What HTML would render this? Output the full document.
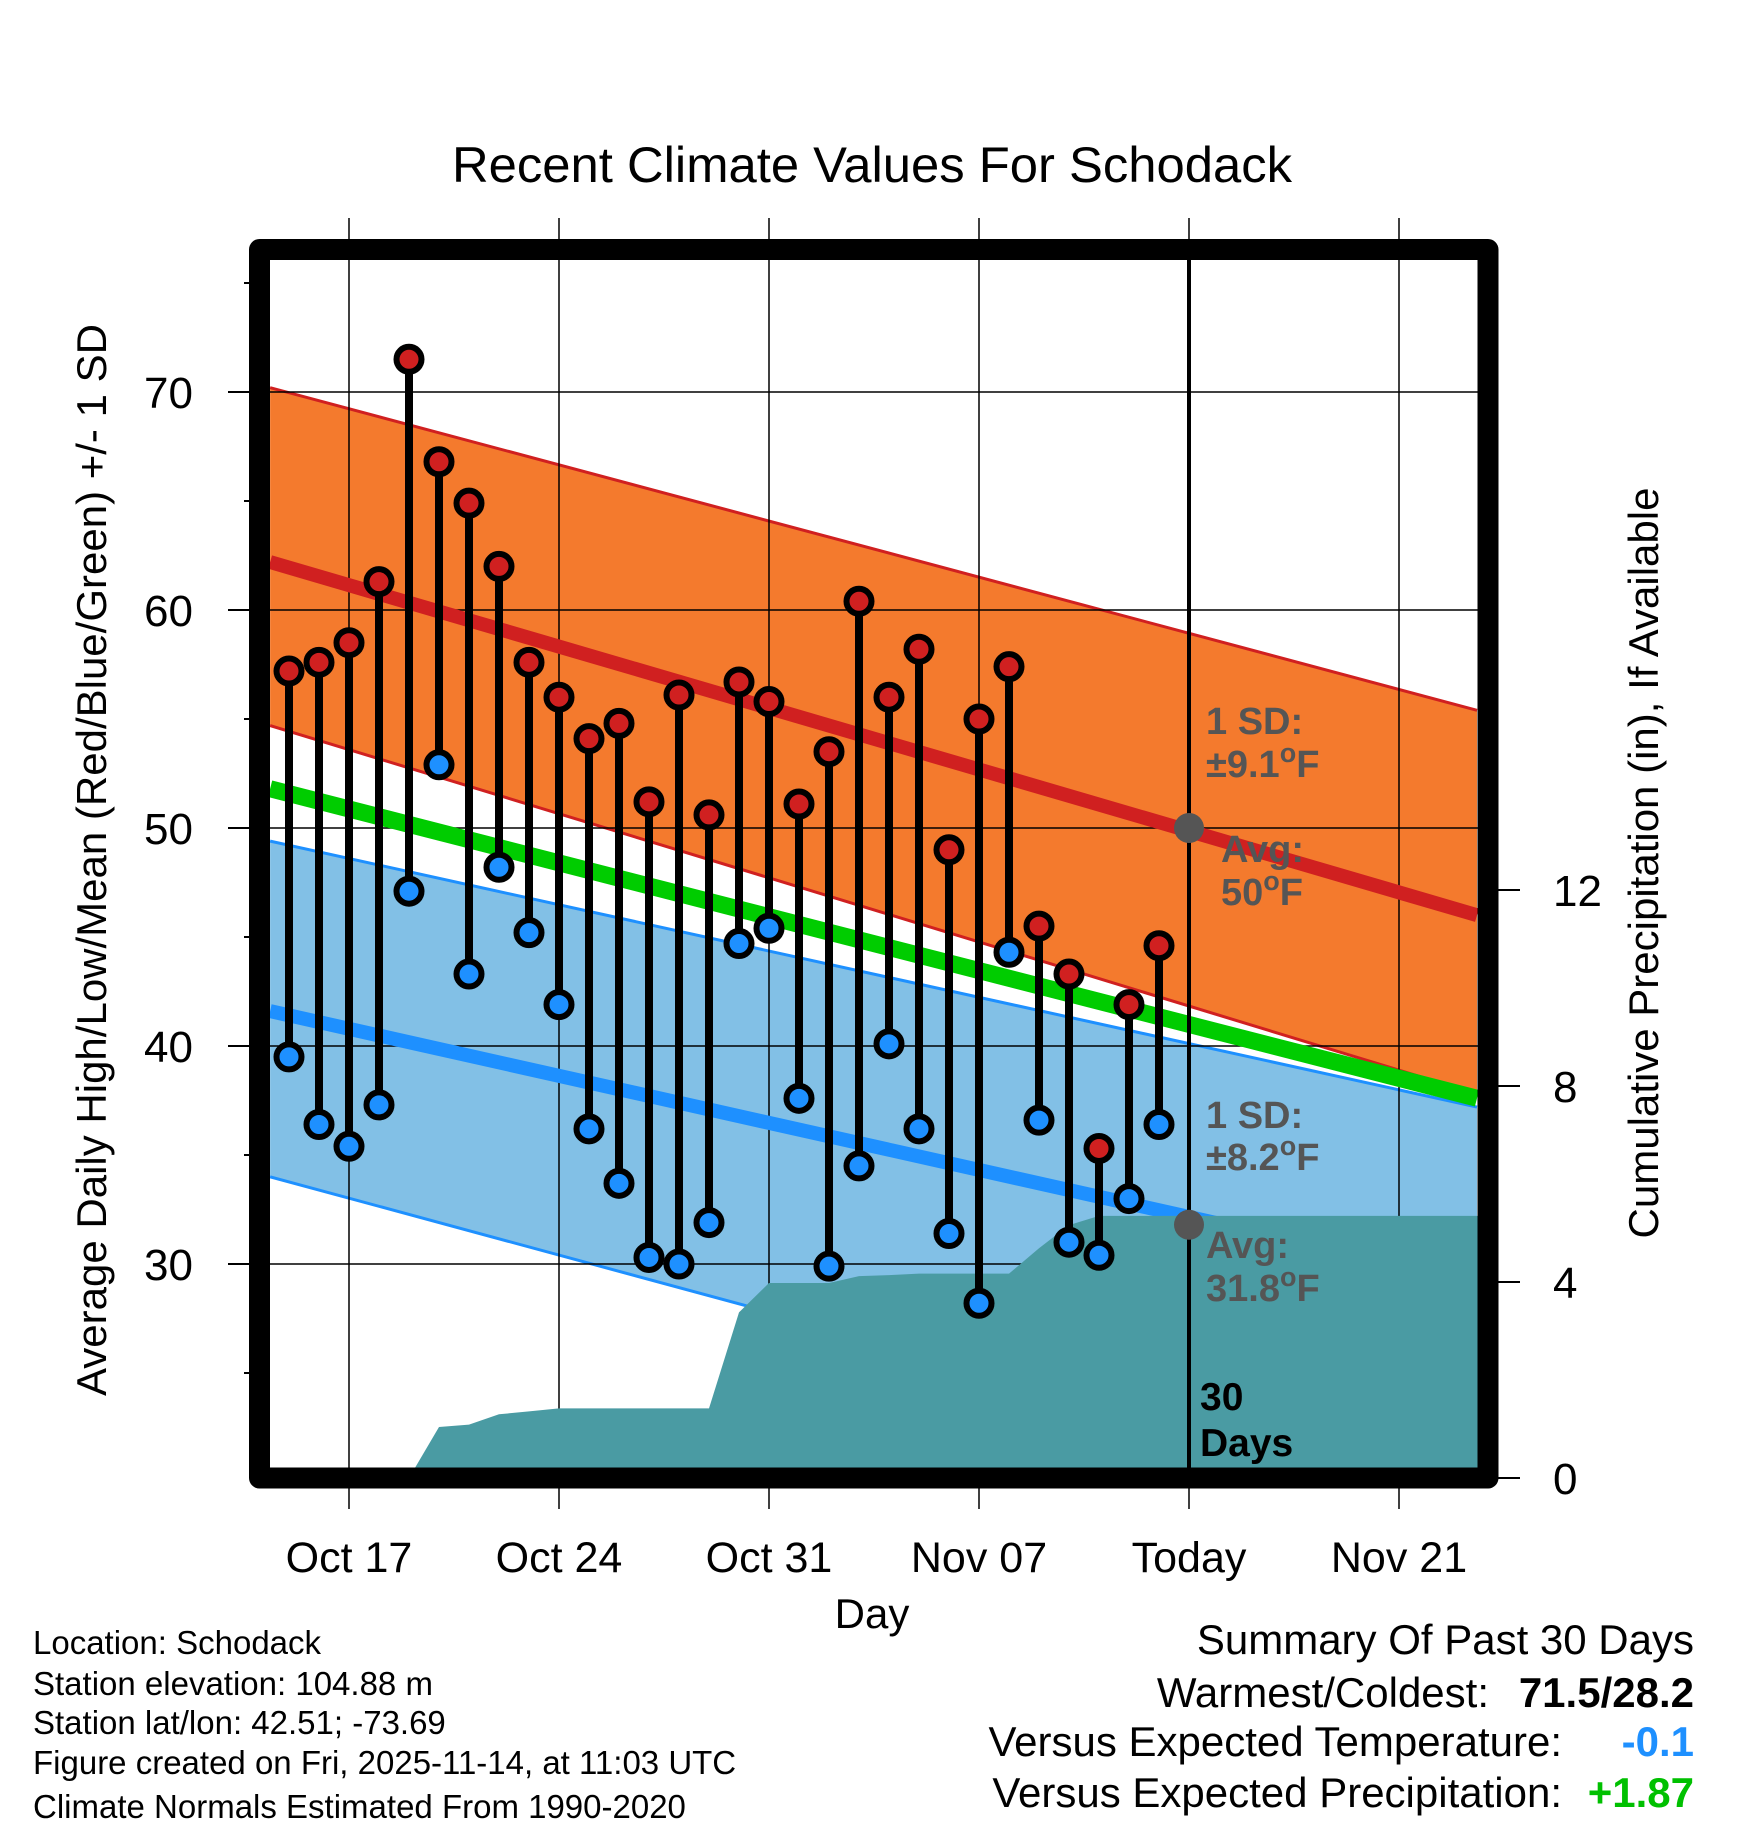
<!DOCTYPE html>
<html><head><meta charset="utf-8"><style>
html,body{margin:0;padding:0;background:#fff;}
svg{display:block;font-family:"Liberation Sans",Arial,sans-serif;}
</style></head><body>
<svg id="chart" width="1748" height="1828" viewBox="0 0 1748 1828" xmlns="http://www.w3.org/2000/svg">
<defs><clipPath id="plotclip"><rect x="270" y="260" width="1208" height="1208"/></clipPath></defs>
<text x="872" y="182" font-size="50" text-anchor="middle" textLength="840" lengthAdjust="spacingAndGlyphs">Recent Climate Values For Schodack</text>
<g id="bands" clip-path="url(#plotclip)"></g>
<g id="grid"></g>
<g id="means" clip-path="url(#plotclip)"></g>
<g id="precip" clip-path="url(#plotclip)"></g>
<g id="stems"></g>
<g id="annot">
 <line x1="1189" y1="260" x2="1189" y2="1468" stroke="#000" stroke-width="4"/>
 <g fill="#555" font-weight="bold" font-size="38">
  <text x="1206" y="734">1 SD:</text>
  <text x="1206" y="777">±9.1<tspan font-size="27" dy="-15">o</tspan><tspan dy="15">F</tspan></text>
  <text x="1221" y="862">Avg:</text>
  <text x="1221" y="905">50<tspan font-size="27" dy="-15">o</tspan><tspan dy="15">F</tspan></text>
  <text x="1206" y="1128">1 SD:</text>
  <text x="1206" y="1170">±8.2<tspan font-size="27" dy="-15">o</tspan><tspan dy="15">F</tspan></text>
  <text x="1206" y="1258">Avg:</text>
  <text x="1206" y="1301">31.8<tspan font-size="27" dy="-15">o</tspan><tspan dy="15">F</tspan></text>
 </g>
 <text x="1200" y="1410" font-size="39" font-weight="bold">30</text>
 <text x="1200" y="1456" font-size="39" font-weight="bold">Days</text>
</g>
<path d="M259.5 249.5 H1488 V1478 H259.5 Z" fill="none" stroke="#000" stroke-width="21" stroke-linejoin="round"/>
<g id="axes"></g>
<text transform="translate(106,860) rotate(-90)" font-size="42" text-anchor="middle">Average Daily High/Low/Mean (Red/Blue/Green) +/- 1 SD</text>
<text transform="translate(1658,863) rotate(-90)" font-size="42" text-anchor="middle">Cumulative Precipitation (in), If Available</text>
<text x="872" y="1628" font-size="42" text-anchor="middle">Day</text>
<g font-size="33">
 <text x="33" y="1654">Location: Schodack</text>
 <text x="33" y="1695">Station elevation: 104.88 m</text>
 <text x="33" y="1734">Station lat/lon: 42.51; -73.69</text>
 <text x="33" y="1774">Figure created on Fri, 2025-11-14, at 11:03 UTC</text>
 <text x="33" y="1818">Climate Normals Estimated From 1990-2020</text>
</g>
<g font-size="42" text-anchor="end">
 <text x="1694" y="1654">Summary Of Past 30 Days</text>
 <text x="1489" y="1707">Warmest/Coldest:</text>
 <text x="1694" y="1707" font-weight="bold">71.5/28.2</text>
 <text x="1562" y="1756">Versus Expected Temperature:</text>
 <text x="1694" y="1756" font-weight="bold" fill="#1E90FF">-0.1</text>
 <text x="1562" y="1807">Versus Expected Precipitation:</text>
 <text x="1694" y="1807" font-weight="bold" fill="#00C000">+1.87</text>
</g>
</svg>
<script>
// Day index relative to Oct 17 (0). Observed days Oct 15 .. Nov 13.
const obsDays = [-2,-1,0,1,2,3,4,5,6,7,8,9,10,11,12,13,14,15,16,17,18,19,20,21,22,23,24,25,26,27];
const highs = [57.2,57.6,58.5,61.3,71.5,66.8,64.9,62.0,57.6,56.0,54.1,54.8,51.2,56.1,50.6,56.7,55.8,51.1,53.5,60.4,56.0,58.2,49.0,55.0,57.4,45.5,43.3,35.3,41.9,44.6];
const lows = [39.5,36.4,35.4,37.3,47.1,52.9,43.3,48.2,45.2,41.9,36.2,33.7,30.3,30.0,31.9,44.7,45.4,37.6,29.9,34.5,40.1,36.2,31.4,28.2,44.3,36.6,31.0,30.4,33.0,36.4];
const precipCum = [0,0,0,0,0,1.04,1.09,1.30,1.36,1.42,1.42,1.42,1.42,1.42,1.42,3.38,3.98,3.98,3.98,4.12,4.14,4.17,4.17,4.17,4.17,4.69,5.16,5.35,5.35,5.35];
// Normals at left/right edges of plot (day -2.63 and 37.6)
const normDays = [-2.63, 37.6];
const highMean = [62.2, 46.0];
const highUpper = [70.2, 55.4];
const highLower = [54.7, 37.8];
const meanNorm = [51.8, 37.6];
const lowMean = [41.6, 29.2];
const lowUpper = [49.4, 37.2];
const lowLower = [34.0, 19.0];
const tempTicks = [30,40,50,60,70];
const tempMinor = [25,35,45,55,65,75];
const precipTicks = [0,4,8,12];
const xTickDays = [0,7,14,21,28,35];
const xTickLabels = ["Oct 17","Oct 24","Oct 31","Nov 07","Today","Nov 21"];
const todayDay = 28;
const todayHigh = 50, todayLow = 31.8;

const NS="http://www.w3.org/2000/svg";
const X = d => 349 + 30*d;
const Y = t => 392 + (70 - t)*21.8;
const PY = p => 1478 - 49*p;
function mk(tag, attrs, parent){const e=document.createElementNS(NS,tag);for(const k in attrs)e.setAttribute(k,attrs[k]);parent.appendChild(e);return e;}
const bands=document.getElementById('bands'), grid=document.getElementById('grid'), means=document.getElementById('means'),
 precip=document.getElementById('precip'), stems=document.getElementById('stems'), axes=document.getElementById('axes'), annot=document.getElementById('annot');

function bandPath(up, lo){return `M${X(normDays[0])} ${Y(up[0])} L${X(normDays[1])} ${Y(up[1])} L${X(normDays[1])} ${Y(lo[1])} L${X(normDays[0])} ${Y(lo[0])} Z`;}
function linePts(arr){return `M${X(normDays[0])} ${Y(arr[0])} L${X(normDays[1])} ${Y(arr[1])}`;}
let e;
e=mk('path',{d:bandPath(lowUpper,lowLower),fill:'#82C0E6'},bands);
 
e=mk('path',{d:linePts(lowUpper),stroke:'#1E90FF','stroke-width':3,fill:'none'},bands);
 
e=mk('path',{d:linePts(lowLower),stroke:'#1E90FF','stroke-width':3,fill:'none'},bands);
 
e=mk('path',{d:bandPath(highUpper,highLower),fill:'#F47A2D'},bands);
 
e=mk('path',{d:linePts(highUpper),stroke:'#D02020','stroke-width':3,fill:'none'},bands);
 
e=mk('path',{d:linePts(highLower),stroke:'#D02020','stroke-width':3,fill:'none'},bands);
 

// gridlines
xTickDays.forEach(d=>{
  e=mk('line',{x1:X(d),x2:X(d),y1:218,y2:1509,stroke:'#000','stroke-width':1.5},grid);
   
});
tempTicks.forEach(t=>{
  e=mk('line',{x1:228,x2:1478,y1:Y(t),y2:Y(t),stroke:'#000','stroke-width':1.5},grid);
   
});

e=mk('path',{d:linePts(highMean),stroke:'#D02020','stroke-width':14,fill:'none'},means);
 
e=mk('path',{d:linePts(meanNorm),stroke:'#00CC00','stroke-width':17,fill:'none'},means);
 
e=mk('path',{d:linePts(lowMean),stroke:'#1E90FF','stroke-width':14,fill:'none'},means);
 

// precipitation area
let pd=`M${X(obsDays[0])} ${PY(0)}`;
obsDays.forEach((d,i)=>{pd+=` L${X(d)} ${PY(precipCum[i])}`;});
pd+=` L1480 ${PY(precipCum[precipCum.length-1])} L1480 ${PY(0)} Z`;
e=mk('path',{d:pd,fill:'#4A9BA3'},precip);
 

// stems & markers
obsDays.forEach((d,i)=>{
  const g=mk('g',{},stems);
   
  e=mk('line',{x1:X(d),x2:X(d),y1:Y(highs[i]),y2:Y(lows[i]),stroke:'#000','stroke-width':8},g);
   
  e=mk('circle',{cx:X(d),cy:Y(highs[i]),r:12.5,fill:'#D02020',stroke:'#000','stroke-width':6},g);
   
  e=mk('circle',{cx:X(d),cy:Y(lows[i]),r:12.5,fill:'#1E90FF',stroke:'#000','stroke-width':6},g);
   
});

// today dots
e=mk('circle',{cx:X(todayDay),cy:Y(todayHigh),r:15,fill:'#555'},annot);
 
e=mk('circle',{cx:X(todayDay),cy:Y(todayLow),r:15,fill:'#555'},annot);
 

// axes ticks and labels
tempTicks.forEach(t=>{
  e=mk('line',{x1:228,x2:250,y1:Y(t),y2:Y(t),stroke:'#000','stroke-width':2},axes);
   
  e=mk('text',{x:193,y:Y(t)+16,'font-size':44,'text-anchor':'end'},axes);
  e.textContent=t;
   
});
tempMinor.forEach(t=>{
  e=mk('line',{x1:244,x2:250,y1:Y(t),y2:Y(t),stroke:'#000','stroke-width':2},axes);
   
});
precipTicks.forEach(p=>{
  e=mk('line',{x1:1498,x2:1520,y1:PY(p),y2:PY(p),stroke:'#000','stroke-width':2},axes);
   
  e=mk('text',{x:1553,y:PY(p)+16,'font-size':44},axes);
  e.textContent=p;
   
});
xTickDays.forEach((d,i)=>{
  e=mk('text',{x:X(d),y:1572,'font-size':43,'text-anchor':'middle'},axes);
  e.textContent=xTickLabels[i];
   
});
</script>
</body></html>
